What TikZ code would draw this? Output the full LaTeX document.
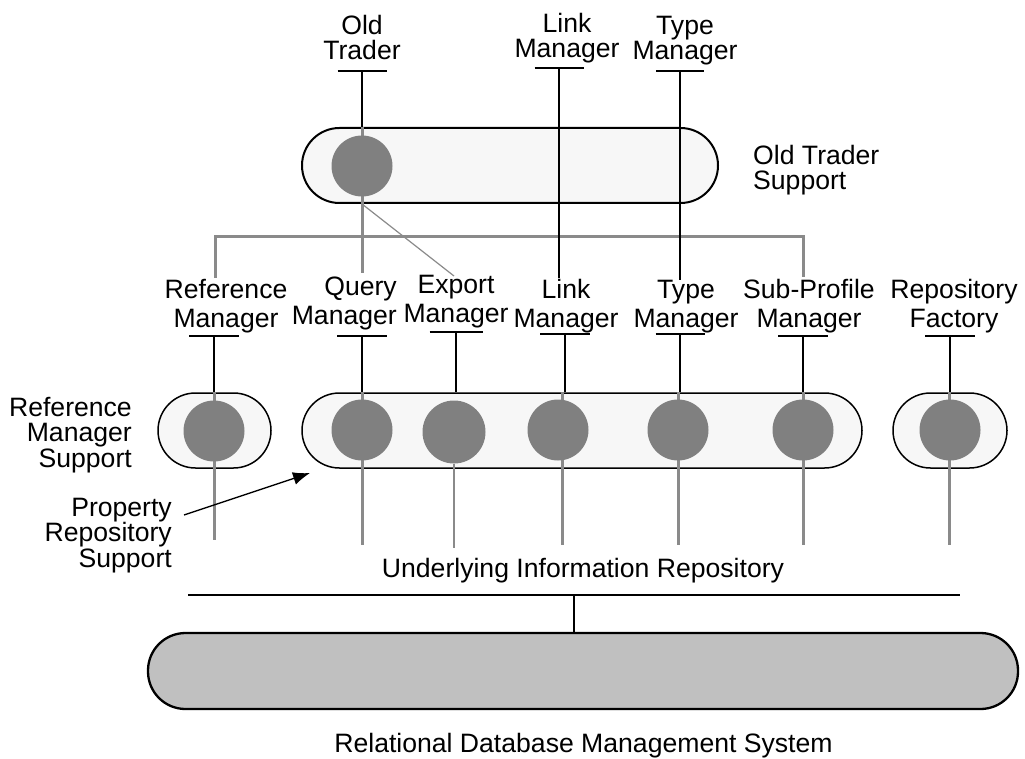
\documentclass[tikz,border=0pt]{standalone}
\usepackage{fontspec}
\setmainfont{Liberation Sans}
\usetikzlibrary{arrows.meta}

\definecolor{capfill}{HTML}{F7F7F7}
\definecolor{discgray}{HTML}{808080}
\definecolor{wiregray}{HTML}{8A8A8A}
\definecolor{dbgray}{HTML}{C0C0C0}

\tikzset{
    toplabel/.style={font=\fontsize{26.6}{25.5}\selectfont, align=center, inner sep=0pt, anchor=base},
    midlabel/.style={font=\fontsize{26.6}{29}\selectfont, align=center, inner sep=0pt, anchor=base},
    sidelabel/.style={font=\fontsize{26.6}{25.5}\selectfont, inner sep=0pt},
    capsule/.style={draw, line width=1.5pt, fill=capfill, rounded corners=37.5pt,
                    inner sep=0pt, minimum height=75pt},
    ball/.style={circle, fill=discgray, inner sep=0pt, minimum size=61pt},
    bar/.style={line width=1.3pt},
    wire/.style={line width=1.3pt},
    trunk/.style={line width=2.7pt},
    gwire/.style={draw=wiregray, line width=3pt},
    gthin/.style={draw=wiregray, line width=1.2pt},
}

\begin{document}
\begin{tikzpicture}[x=1pt,y=-1pt]
    \useasboundingbox (0,0) rectangle (1025,759);

    % support layers
    \node[capsule, line width=2pt, minimum width=416pt] (OTS) at (510,165.5) {};
    \node[capsule, minimum width=113pt] (RMS) at (214.5,430.5) {};
    \node[capsule, minimum width=560pt] (PRS) at (582,430.5) {};
    \node[capsule, minimum width=114pt] (RFS) at (950,430.5) {};
    \node[capsule, fill=dbgray, line width=2.3pt, minimum width=870pt, minimum height=76pt] (DB) at (583,671) {};

    % top row (base = last line)
    \node[toplabel] (OT)  at (362,60) {Old\\Trader};
    \node[toplabel] (LMt) at (567,58) {Link\\Manager};
    \node[toplabel] (TMt) at (685,60) {Type\\Manager};
    \node[sidelabel, align=left, anchor=base west] (OTSl) at (753,190) {Old Trader\\Support};

    \coordinate (OT-b)  at (362,71);
    \coordinate (LMt-b) at (559,68);
    \coordinate (TMt-b) at (680,71);
    \draw[bar] (OT-b)  ++(-24.5,0) -- ++(49,0);
    \draw[bar] (LMt-b) ++(-24.5,0) -- ++(49,0);
    \draw[bar] (TMt-b) ++(-24,0) -- ++(48,0);

    % second row
    \node[midlabel] (RM) at (226,327) {Reference\\Manager};
    \node[midlabel, align=right, anchor=base east] (QM) at (397,324) {Query\\Manager};
    \node[midlabel] (EM) at (456,323) {Export\\Manager};
    \node[midlabel] (LM) at (566,327) {Link\\Manager};
    \node[midlabel] (TM) at (686,327) {Type\\Manager};
    \node[midlabel] (SM) at (809,327) {Sub-Profile\\Manager};
    \node[midlabel] (RF) at (954,327) {Repository\\Factory};

    \coordinate (RM-b) at (214,336);
    \coordinate (QM-b) at (362,336);
    \coordinate (EM-b) at (456,332);
    \coordinate (LM-b) at (565,334);
    \coordinate (TM-b) at (680,334);
    \coordinate (SM-b) at (803,336);
    \coordinate (RF-b) at (950,336);
    \draw[bar] (RM-b) ++(-25,0) -- ++(50,0);
    \draw[bar] (QM-b) ++(-25,0) -- ++(50,0);
    \draw[bar] (EM-b) ++(-26.5,0) -- ++(53,0);
    \draw[bar] (LM-b) ++(-25,0) -- ++(50,0);
    \draw[bar] (TM-b) ++(-24.5,0) -- ++(49,0);
    \draw[bar] (SM-b) ++(-25,0) -- ++(50,0);
    \draw[bar] (RF-b) ++(-25,0) -- ++(50,0);

    \coordinate (RM-i) at (215,278);
    \coordinate (QM-i) at (362,273);
    \coordinate (EM-i) at (454,276);
    \coordinate (LM-i) at (559,278);
    \coordinate (TM-i) at (680,280);
    \coordinate (SM-i) at (803,277);
    \coordinate (BUS-l) at (215,236.5);
    \coordinate (BUS-r) at (803,236.5);

    \coordinate (RM-o) at (214,540);
    \coordinate (QM-o) at (362,545);
    \coordinate (EM-o) at (454,548);
    \coordinate (LM-o) at (562,545);
    \coordinate (TM-o) at (678,545);
    \coordinate (SM-o) at (803,545);
    \coordinate (RF-o) at (949,545);

    % gray links under the units
    \draw[gwire] (RM-i) -- (BUS-l) -- (BUS-r) -- (SM-i);
    \draw[gwire] (QM-i |- OTS.north) -- (QM-i);
    \draw[gthin] (OTS.south -| OT-b) -- (EM-i);
    \draw[gwire] (RM-o |- RMS.north) -- (RM-o);
    \draw[gwire] (QM-o |- PRS.north) -- (QM-o);
    \draw[gwire] (LM-o |- PRS.north) -- (LM-o);
    \draw[gwire] (TM-o |- PRS.north) -- (TM-o);
    \draw[gwire] (SM-o |- PRS.north) -- (SM-o);
    \draw[gwire] (RF-o |- RFS.north) -- (RF-o);

    % units
    \node[ball] (OTd) at (362,166) {};
    \node[ball] (RMd) at (214,431) {};
    \node[ball] (QMd) at (362,430) {};
    \node[ball, minimum size=63pt] (EMd) at (454,432) {};
    \node[ball] (LMd) at (558,430) {};
    \node[ball] (TMd) at (678,430) {};
    \node[ball] (SMd) at (803,430) {};
    \node[ball] (RFd) at (950,430) {};
    \draw[gthin] (EMd.south) -- (EM-o);

    % black interfaces
    \draw[wire] (OT-b) -- (OT-b |- OTS.north);
    \draw[trunk] (LMt-b) -- (LM-i);
    \draw[trunk] (TMt-b) -- (TM-i);
    \draw[wire] (RM-b) -- (RM-b |- RMS.north);
    \draw[wire] (QM-b) -- (QM-b |- PRS.north);
    \draw[wire] (EM-b) -- (EM-b |- PRS.north);
    \draw[wire] (LM-b) -- (LM-b |- PRS.north);
    \draw[wire] (TM-b) -- (TM-b |- PRS.north);
    \draw[wire] (SM-b) -- (SM-b |- PRS.north);
    \draw[wire] (RF-b) -- (RF-b |- RFS.north);

    % side labels
    \node[sidelabel, align=right, anchor=base east] (RMSl) at (132,467) {Reference\\Manager\\Support};
    \node[sidelabel, align=right, anchor=base east] (PRSl) at (172,567) {Property\\Repository\\Support};
    \coordinate (PRS-f) at (184,515);
    \coordinate (PRS-p) at (310,473);
    \draw[wire, -{Latex[length=17pt,width=13pt]}] (PRS-f) -- (PRS-p);

    % repository and database
    \node[sidelabel, anchor=base] (UIR) at (583,577) {Underlying Information Repository};
    \coordinate (UIR-l) at (188,595);
    \coordinate (UIR-r) at (960,595);
    \coordinate (UIR-c) at (574,595);
    \draw[wire] (UIR-l) -- (UIR-r);
    \draw[wire] (UIR-c) -- (UIR-c |- DB.north);
    \node[sidelabel, anchor=base] (DBl) at (583.5,752) {Relational Database Management System};
\end{tikzpicture}
\end{document}
